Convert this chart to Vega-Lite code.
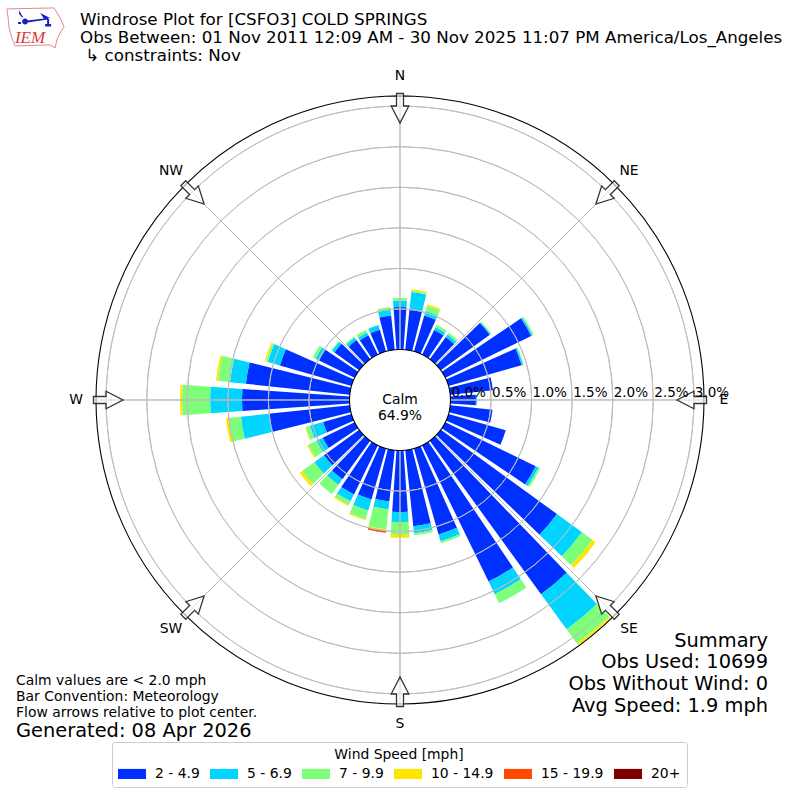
{
  "$schema": "https://vega.github.io/schema/vega-lite/v6.json",
  "width": 800,
  "height": 800,
  "padding": 0,
  "autosize": "none",
  "background": "white",
  "title": {
    "text": [
      "Windrose Plot for [CSFO3] COLD SPRINGS",
      "Obs Between: 01 Nov 2011 12:09 AM - 30 Nov 2025 11:07 PM America/Los_Angeles",
      "\u200b\u00a0↳ constraints: Nov"
    ],
    "anchor": "start",
    "frame": "group",
    "orient": "top",
    "dx": 80,
    "dy": 69,
    "font": "DejaVu Sans",
    "fontSize": 16.7,
    "fontWeight": "normal",
    "lineHeight": 18.4,
    "color": "black"
  },
  "config": {
    "view": {"stroke": null},
    "text": {"font": "DejaVu Sans", "color": "black"}
  },
  "datasets": {
    "compass": [
      {"dir": 0, "label": "N"},
      {"dir": 45, "label": "NE"},
      {"dir": 90, "label": "E"},
      {"dir": 135, "label": "SE"},
      {"dir": 180, "label": "S"},
      {"dir": 225, "label": "SW"},
      {"dir": 270, "label": "W"},
      {"dir": 315, "label": "NW"}
    ],
    "rings": [
      {"v": 0, "label": "0.0%"},
      {"v": 0.5, "label": "0.5%"},
      {"v": 1, "label": "1.0%"},
      {"v": 1.5, "label": "1.5%"},
      {"v": 2, "label": "2.0%"},
      {"v": 2.5, "label": "2.5%"},
      {"v": 3, "label": "3.0%"}
    ]
  },
  "data": {
    "values": [
      {"dir": 0, "speed": "2 - 4.9", "pct": 0.524},
      {"dir": 0, "speed": "5 - 6.9", "pct": 0.08},
      {"dir": 0, "speed": "7 - 9.9", "pct": 0.031},
      {"dir": 10, "speed": "2 - 4.9", "pct": 0.507},
      {"dir": 10, "speed": "5 - 6.9", "pct": 0.208},
      {"dir": 10, "speed": "7 - 9.9", "pct": 0.018},
      {"dir": 10, "speed": "10 - 14.9", "pct": 0.018},
      {"dir": 20, "speed": "2 - 4.9", "pct": 0.462},
      {"dir": 20, "speed": "5 - 6.9", "pct": 0.057},
      {"dir": 20, "speed": "7 - 9.9", "pct": 0.067},
      {"dir": 20, "speed": "10 - 14.9", "pct": 0.02},
      {"dir": 30, "speed": "2 - 4.9", "pct": 0.339},
      {"dir": 30, "speed": "5 - 6.9", "pct": 0.037},
      {"dir": 30, "speed": "7 - 9.9", "pct": 0.032},
      {"dir": 40, "speed": "2 - 4.9", "pct": 0.339},
      {"dir": 40, "speed": "5 - 6.9", "pct": 0.037},
      {"dir": 40, "speed": "7 - 9.9", "pct": 0.025},
      {"dir": 50, "speed": "2 - 4.9", "pct": 0.746},
      {"dir": 50, "speed": "5 - 6.9", "pct": 0.012},
      {"dir": 50, "speed": "7 - 9.9", "pct": 0.012},
      {"dir": 60, "speed": "2 - 4.9", "pct": 1.177},
      {"dir": 60, "speed": "5 - 6.9", "pct": 0.018},
      {"dir": 60, "speed": "7 - 9.9", "pct": 0.018},
      {"dir": 70, "speed": "2 - 4.9", "pct": 0.937},
      {"dir": 70, "speed": "5 - 6.9", "pct": 0.018},
      {"dir": 70, "speed": "7 - 9.9", "pct": 0.012},
      {"dir": 80, "speed": "2 - 4.9", "pct": 0.529},
      {"dir": 90, "speed": "2 - 4.9", "pct": 0.314},
      {"dir": 90, "speed": "5 - 6.9", "pct": 0.012},
      {"dir": 100, "speed": "2 - 4.9", "pct": 0.524},
      {"dir": 110, "speed": "2 - 4.9", "pct": 0.733},
      {"dir": 120, "speed": "2 - 4.9", "pct": 1.239},
      {"dir": 120, "speed": "5 - 6.9", "pct": 0.037},
      {"dir": 120, "speed": "7 - 9.9", "pct": 0.025},
      {"dir": 130, "speed": "2 - 4.9", "pct": 1.769},
      {"dir": 130, "speed": "5 - 6.9", "pct": 0.382},
      {"dir": 130, "speed": "7 - 9.9", "pct": 0.16},
      {"dir": 130, "speed": "10 - 14.9", "pct": 0.049},
      {"dir": 140, "speed": "2 - 4.9", "pct": 2.336},
      {"dir": 140, "speed": "5 - 6.9", "pct": 0.536},
      {"dir": 140, "speed": "7 - 9.9", "pct": 0.216},
      {"dir": 140, "speed": "10 - 14.9", "pct": 0.025},
      {"dir": 150, "speed": "2 - 4.9", "pct": 1.868},
      {"dir": 150, "speed": "5 - 6.9", "pct": 0.173},
      {"dir": 150, "speed": "7 - 9.9", "pct": 0.123},
      {"dir": 160, "speed": "2 - 4.9", "pct": 1.103},
      {"dir": 160, "speed": "5 - 6.9", "pct": 0.086},
      {"dir": 160, "speed": "7 - 9.9", "pct": 0.025},
      {"dir": 170, "speed": "2 - 4.9", "pct": 0.943},
      {"dir": 170, "speed": "5 - 6.9", "pct": 0.086},
      {"dir": 170, "speed": "7 - 9.9", "pct": 0.025},
      {"dir": 180, "speed": "2 - 4.9", "pct": 0.758},
      {"dir": 180, "speed": "5 - 6.9", "pct": 0.123},
      {"dir": 180, "speed": "7 - 9.9", "pct": 0.16},
      {"dir": 180, "speed": "10 - 14.9", "pct": 0.037},
      {"dir": 190, "speed": "2 - 4.9", "pct": 0.635},
      {"dir": 190, "speed": "5 - 6.9", "pct": 0.099},
      {"dir": 190, "speed": "7 - 9.9", "pct": 0.247},
      {"dir": 190, "speed": "10 - 14.9", "pct": 0.018},
      {"dir": 190, "speed": "15 - 19.9", "pct": 0.025},
      {"dir": 200, "speed": "2 - 4.9", "pct": 0.653},
      {"dir": 200, "speed": "5 - 6.9", "pct": 0.142},
      {"dir": 200, "speed": "7 - 9.9", "pct": 0.111},
      {"dir": 200, "speed": "10 - 14.9", "pct": 0.012},
      {"dir": 210, "speed": "2 - 4.9", "pct": 0.672},
      {"dir": 210, "speed": "5 - 6.9", "pct": 0.094},
      {"dir": 210, "speed": "7 - 9.9", "pct": 0.049},
      {"dir": 210, "speed": "10 - 14.9", "pct": 0.017},
      {"dir": 220, "speed": "2 - 4.9", "pct": 0.586},
      {"dir": 220, "speed": "5 - 6.9", "pct": 0.086},
      {"dir": 220, "speed": "7 - 9.9", "pct": 0.136},
      {"dir": 230, "speed": "2 - 4.9", "pct": 0.536},
      {"dir": 230, "speed": "5 - 6.9", "pct": 0.148},
      {"dir": 230, "speed": "7 - 9.9", "pct": 0.185},
      {"dir": 230, "speed": "10 - 14.9", "pct": 0.037},
      {"dir": 240, "speed": "2 - 4.9", "pct": 0.438},
      {"dir": 240, "speed": "5 - 6.9", "pct": 0.086},
      {"dir": 240, "speed": "7 - 9.9", "pct": 0.111},
      {"dir": 240, "speed": "10 - 14.9", "pct": 0.018},
      {"dir": 250, "speed": "2 - 4.9", "pct": 0.364},
      {"dir": 250, "speed": "5 - 6.9", "pct": 0.168},
      {"dir": 250, "speed": "7 - 9.9", "pct": 0.054},
      {"dir": 250, "speed": "10 - 14.9", "pct": 0.006},
      {"dir": 260, "speed": "2 - 4.9", "pct": 1.005},
      {"dir": 260, "speed": "5 - 6.9", "pct": 0.345},
      {"dir": 260, "speed": "7 - 9.9", "pct": 0.148},
      {"dir": 260, "speed": "10 - 14.9", "pct": 0.037},
      {"dir": 270, "speed": "2 - 4.9", "pct": 1.325},
      {"dir": 270, "speed": "5 - 6.9", "pct": 0.394},
      {"dir": 270, "speed": "7 - 9.9", "pct": 0.345},
      {"dir": 270, "speed": "10 - 14.9", "pct": 0.025},
      {"dir": 280, "speed": "2 - 4.9", "pct": 1.288},
      {"dir": 280, "speed": "5 - 6.9", "pct": 0.197},
      {"dir": 280, "speed": "7 - 9.9", "pct": 0.148},
      {"dir": 280, "speed": "10 - 14.9", "pct": 0.025},
      {"dir": 290, "speed": "2 - 4.9", "pct": 0.918},
      {"dir": 290, "speed": "5 - 6.9", "pct": 0.155},
      {"dir": 290, "speed": "7 - 9.9", "pct": 0.023},
      {"dir": 290, "speed": "10 - 14.9", "pct": 0.018},
      {"dir": 300, "speed": "2 - 4.9", "pct": 0.487},
      {"dir": 300, "speed": "5 - 6.9", "pct": 0.049},
      {"dir": 300, "speed": "7 - 9.9", "pct": 0.037},
      {"dir": 310, "speed": "2 - 4.9", "pct": 0.376},
      {"dir": 310, "speed": "5 - 6.9", "pct": 0.037},
      {"dir": 310, "speed": "7 - 9.9", "pct": 0.012},
      {"dir": 320, "speed": "2 - 4.9", "pct": 0.29},
      {"dir": 320, "speed": "5 - 6.9", "pct": 0.037},
      {"dir": 320, "speed": "7 - 9.9", "pct": 0.018},
      {"dir": 330, "speed": "2 - 4.9", "pct": 0.265},
      {"dir": 330, "speed": "5 - 6.9", "pct": 0.037},
      {"dir": 330, "speed": "7 - 9.9", "pct": 0.037},
      {"dir": 340, "speed": "2 - 4.9", "pct": 0.277},
      {"dir": 340, "speed": "5 - 6.9", "pct": 0.062},
      {"dir": 350, "speed": "2 - 4.9", "pct": 0.425},
      {"dir": 350, "speed": "5 - 6.9", "pct": 0.074},
      {"dir": 350, "speed": "7 - 9.9", "pct": 0.031}
    ]
  },
  "layer": [
    {
      "transform": [
        {"stack": "pct", "groupby": ["dir"], "as": ["low", "high"]},
        {"calculate": "datum.dir - 4", "as": "a0"},
        {"calculate": "datum.dir + 4", "as": "a1"}
      ],
      "mark": {"type": "arc"},
      "encoding": {
        "theta": {"field": "a0", "type": "quantitative", "stack": null, "scale": {"domain": [0, 360], "range": [0, 6.2832]}},
        "theta2": {"field": "a1"},
        "radius": {"field": "low", "type": "quantitative", "stack": null, "scale": {"domain": [0, 3.125], "range": [50.5, 304]}},
        "radius2": {"field": "high"},
        "color": {
          "field": "speed",
          "type": "nominal",
          "scale": {
            "domain": ["2 - 4.9", "5 - 6.9", "7 - 9.9", "10 - 14.9", "15 - 19.9", "20+"],
            "range": ["#0030ff", "#00d4ff", "#7dff7a", "#ffe600", "#ff4a00", "#800000"]
          },
          "legend": {
            "orient": "none",
            "legendX": 112,
            "legendY": 742,
            "direction": "horizontal",
            "columns": 6,
            "title": "Wind Speed [mph]",
            "titleFont": "DejaVu Sans",
            "titleFontSize": 13.9,
            "titleFontWeight": "normal",
            "titleAnchor": "middle",
            "titleColor": "black",
            "titlePadding": -2,
            "labelFont": "DejaVu Sans",
            "labelFontSize": 13.9,
            "labelColor": "black",
            "labelOffset": 9,
            "symbolType": "M-1,-0.36H1V0.36H-1Z",
            "symbolSize": 784,
            "symbolStrokeWidth": 0,
            "symbolOpacity": 1,
            "columnPadding": 10,
            "fillColor": "white",
            "strokeColor": "#cccccc",
            "cornerRadius": 3,
            "padding": 6
          }
        }
      }
    },
    {
      "data": {"name": "rings"},
      "transform": [{"filter": "datum.v > 0"}],
      "mark": {"type": "arc", "theta": 0, "theta2": 6.2832, "fill": null, "stroke": "#bdbdbd", "strokeWidth": 1},
      "encoding": {
        "radius": {"field": "v", "type": "quantitative", "stack": null, "scale": {"domain": [0, 3.125], "range": [50.5, 304]}},
        "radius2": {"field": "v"}
      }
    },
    {
      "data": {"name": "compass"},
      "mark": {"type": "arc", "fill": null, "stroke": "#bdbdbd", "strokeWidth": 1},
      "encoding": {
        "theta": {"field": "dir", "type": "quantitative", "stack": null, "scale": {"domain": [0, 360], "range": [0, 6.2832]}},
        "theta2": {"field": "dir"},
        "radius": {"datum": 0, "type": "quantitative", "stack": null, "scale": {"domain": [0, 3.125], "range": [50.5, 304]}},
        "radius2": {"datum": 3.125}
      }
    },
    {
      "data": {"values": [{"edge": 0}, {"edge": 3.125}]},
      "mark": {"type": "arc", "theta": 0, "theta2": 6.2832, "fill": null, "stroke": "black", "strokeWidth": 1.1},
      "encoding": {
        "radius": {"field": "edge", "type": "quantitative", "stack": null, "scale": {"domain": [0, 3.125], "range": [50.5, 304]}},
        "radius2": {"field": "edge"}
      }
    },
    {
      "data": {"name": "compass"},
      "transform": [
        {"calculate": "0.954 * sin(datum.dir * PI / 180)", "as": "ux"},
        {"calculate": "0.954 * cos(datum.dir * PI / 180)", "as": "uy"}
      ],
      "mark": {
        "type": "point",
        "shape": "M-3.5,-16.5H3.5V-4H8.8L0,13L-8.8,-4H-3.5Z",
        "size": 4,
        "filled": true,
        "fill": "white",
        "fillOpacity": 0.6,
        "stroke": "#333333",
        "strokeWidth": 1.3,
        "opacity": 1
      },
      "encoding": {
        "x": {"field": "ux", "type": "quantitative", "axis": null, "scale": {"domain": [-1.3158, 1.3158]}},
        "y": {"field": "uy", "type": "quantitative", "axis": null, "scale": {"domain": [-1.3158, 1.3158]}},
        "angle": {"field": "dir", "type": "quantitative", "scale": null}
      }
    },
    {
      "data": {"name": "compass"},
      "mark": {"type": "text", "fontSize": 13.9, "baseline": "middle", "align": "center"},
      "encoding": {
        "theta": {"field": "dir", "type": "quantitative", "stack": null, "scale": {"domain": [0, 360], "range": [0, 6.2832]}},
        "radius": {"datum": 3.37, "type": "quantitative", "stack": null, "scale": {"domain": [0, 3.125], "range": [50.5, 304]}},
        "text": {"field": "label"}
      }
    },
    {
      "data": {"name": "rings"},
      "mark": {"type": "text", "fontSize": 13.5, "baseline": "middle", "align": "left", "dx": 1, "dy": -7},
      "encoding": {
        "theta": {"datum": 90, "type": "quantitative", "stack": null, "scale": {"domain": [0, 360], "range": [0, 6.2832]}},
        "radius": {"field": "v", "type": "quantitative", "stack": null, "scale": {"domain": [0, 3.125], "range": [50.5, 304]}},
        "text": {"field": "label"}
      }
    },
    {
      "data": {"values": [{}]},
      "mark": {"type": "text", "text": ["Calm", "64.9%"], "fontSize": 13.9, "lineHeight": 16, "align": "center", "baseline": "middle"},
      "encoding": {
        "x": {"datum": 0, "type": "quantitative", "axis": null, "scale": {"domain": [-1.3158, 1.3158]}},
        "y": {"datum": 0, "type": "quantitative", "axis": null, "scale": {"domain": [-1.3158, 1.3158]}}
      }
    },
    {
      "data": {"values": [{}]},
      "mark": {"type": "text", "text": ["Calm values are < 2.0 mph", "Bar Convention: Meteorology", "Flow arrows relative to plot center."], "fontSize": 13.9, "lineHeight": 16, "align": "left", "baseline": "top"},
      "encoding": {
        "x": {"datum": -1.263, "type": "quantitative", "axis": null, "scale": {"domain": [-1.3158, 1.3158]}},
        "y": {"datum": -0.9015, "type": "quantitative", "axis": null, "scale": {"domain": [-1.3158, 1.3158]}}
      }
    },
    {
      "data": {"values": [{}]},
      "mark": {"type": "text", "text": "Generated: 08 Apr 2026", "fontSize": 19.4, "align": "left", "baseline": "middle"},
      "encoding": {
        "x": {"datum": -1.263, "type": "quantitative", "axis": null, "scale": {"domain": [-1.3158, 1.3158]}},
        "y": {"datum": -1.088, "type": "quantitative", "axis": null, "scale": {"domain": [-1.3158, 1.3158]}}
      }
    },
    {
      "data": {"values": [{}]},
      "mark": {"type": "text", "text": ["Summary", "Obs Used: 10699", "Obs Without Wind: 0", "Avg Speed: 1.9 mph"], "fontSize": 19.4, "lineHeight": 21.7, "align": "right", "baseline": "top"},
      "encoding": {
        "x": {"datum": 1.2105, "type": "quantitative", "axis": null, "scale": {"domain": [-1.3158, 1.3158]}},
        "y": {"datum": -0.7625, "type": "quantitative", "axis": null, "scale": {"domain": [-1.3158, 1.3158]}}
      }
    },
    {
      "data": {"values": [{}]},
      "mark": {
        "type": "point",
        "shape": "M-29.3,-19L18,-20L24,-10L28,-1L24,5L20.7,12L19,20L14,17L-21,18L-24.3,10L-27,0L-28,-10Z",
        "size": 4,
        "fill": null,
        "stroke": "#e28a8a",
        "strokeWidth": 1,
        "opacity": 1
      },
      "encoding": {
        "x": {"datum": -1.197, "type": "quantitative", "axis": null, "scale": {"domain": [-1.3158, 1.3158]}},
        "y": {"datum": 1.224, "type": "quantitative", "axis": null, "scale": {"domain": [-1.3158, 1.3158]}}
      }
    },
    {
      "data": {"values": [{}]},
      "mark": {
        "type": "point",
        "shape": "M-14,-6.5A3,3,0,1,1,-8,-6.5A3,3,0,1,1,-14,-6.5ZM-9,-7.5L12,-10L12,-8.5L-9,-5.5ZM4,-15L14,-10L8,-9ZM11,-9H13V-2H11ZM9,-4H15V-1.5H9ZM-18,-6H-15V-4H-18ZM-17,-18L-15,-14L-13,-11L-14,-10.5L-17,-14Z",
        "size": 4,
        "filled": true,
        "fill": "#1620c8",
        "opacity": 1
      },
      "encoding": {
        "x": {"datum": -1.197, "type": "quantitative", "axis": null, "scale": {"domain": [-1.3158, 1.3158]}},
        "y": {"datum": 1.224, "type": "quantitative", "axis": null, "scale": {"domain": [-1.3158, 1.3158]}}
      }
    },
    {
      "data": {"values": [{}]},
      "mark": {"type": "text", "text": "IEM", "font": "Liberation Serif", "fontStyle": "italic", "fontSize": 17, "color": "#d63a3a", "align": "center", "baseline": "middle"},
      "encoding": {
        "x": {"datum": -1.217, "type": "quantitative", "axis": null, "scale": {"domain": [-1.3158, 1.3158]}},
        "y": {"datum": 1.191, "type": "quantitative", "axis": null, "scale": {"domain": [-1.3158, 1.3158]}}
      }
    }
  ]
}
